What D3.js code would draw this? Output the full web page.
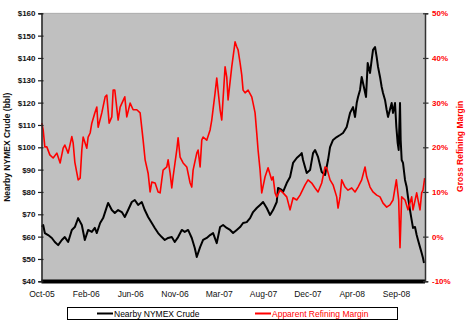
<!DOCTYPE html>
<html><head><meta charset="utf-8">
<script src="https://cdn.jsdelivr.net/npm/d3@7"></script>
<style>body{margin:0;background:#fff}svg{display:block}text{font-family:"Liberation Sans",Arial,sans-serif}</style>
</head><body>
<script>
const crudeDates = ["2005-10-06","2005-10-10","2005-10-15","2005-10-25","2005-11-05","2005-11-14","2005-11-24","2005-12-05","2005-12-14","2005-12-24",
"2006-01-04","2006-01-13","2006-01-23","2006-02-03","2006-02-12","2006-02-22","2006-03-05","2006-03-14","2006-03-20","2006-03-30",
"2006-04-08","2006-04-19","2006-04-23","2006-05-04","2006-05-13","2006-05-23","2006-06-03","2006-06-12","2006-06-22","2006-07-03",
"2006-07-12","2006-07-22","2006-08-02","2006-08-11","2006-08-21","2006-09-01","2006-09-10","2006-09-20","2006-10-01","2006-10-10",
"2006-10-20","2006-10-31","2006-11-09","2006-11-19","2006-11-30","2006-12-09","2006-12-19","2006-12-30","2007-01-08","2007-01-14",
"2007-01-24","2007-02-02","2007-02-13","2007-02-23","2007-03-04","2007-03-15","2007-03-25","2007-04-03","2007-04-14","2007-04-24",
"2007-05-03","2007-05-14","2007-05-24","2007-06-02","2007-06-13","2007-06-23","2007-07-02","2007-07-13","2007-07-23","2007-08-01",
"2007-08-12","2007-08-22","2007-08-31","2007-09-11","2007-09-15","2007-09-26","2007-09-30","2007-10-11","2007-10-21","2007-10-30",
"2007-11-10","2007-11-20","2007-11-25","2007-11-29","2007-12-10","2007-12-20","2007-12-29","2008-01-04","2008-01-13","2008-01-24",
"2008-02-03","2008-02-12","2008-02-18","2008-02-27","2008-03-09","2008-03-19","2008-03-28","2008-04-08","2008-04-18","2008-04-27",
"2008-05-03","2008-05-08","2008-05-12","2008-05-18","2008-05-23","2008-05-27","2008-06-05","2008-06-10","2008-06-17","2008-06-22",
"2008-06-26","2008-07-02","2008-07-07","2008-07-11","2008-07-17","2008-07-22","2008-07-26","2008-08-01","2008-08-06","2008-08-10",
"2008-08-21","2008-08-25","2008-08-31","2008-09-04","2008-09-08","2008-09-11","2008-09-15","2008-09-17","2008-09-20","2008-09-24",
"2008-09-30","2008-10-05","2008-10-09","2008-10-15","2008-10-20","2008-10-24","2008-10-30","2008-11-04","2008-11-08","2008-11-14",
"2008-11-19","2008-11-23","2008-11-26"];
const crudeValues = [64.4,65.2,61.6,60.7,59.4,57.6,56.2,58.5,59.8,57.6,
63.0,64.3,68.3,65.2,58.5,63.0,62.1,63.9,61.6,66.1,
68.3,73.3,75.1,71.9,70.6,71.9,71.0,68.8,71.9,75.5,
76.4,74.2,75.5,71.9,68.8,66.1,63.9,61.6,59.8,58.5,
59.4,59.8,57.6,59.8,63.0,62.1,63.0,59.4,54.9,50.9,
55.3,58.5,59.4,60.7,61.6,57.1,64.3,65.2,63.9,63.0,
61.6,63.0,64.3,66.1,66.5,68.3,71.0,72.8,74.2,75.5,
72.8,69.7,71.9,75.5,81.8,80.9,80.0,84.0,86.7,93.0,
95.2,96.5,97.4,94.3,88.5,89.8,97.4,98.8,95.7,88.9,
87.6,94.3,100.1,103.3,104.6,105.5,106.4,109.1,115.4,118.0,
113.6,119.8,122.5,125.7,131.5,128.8,122.5,137.7,133.3,139.1,
143.6,144.9,140.4,136.0,131.5,127.0,124.3,121.2,116.7,113.6,
119.8,115.4,119.8,109.1,101.9,98.8,119.8,103.3,94.3,93.0,
85.4,82.2,77.7,71.9,67.4,63.9,64.3,60.7,58.5,55.3,
52.7,50.4,48.2];

const marginDates = ["2005-10-06","2005-10-10","2005-10-15","2005-10-21","2005-10-30","2005-11-09","2005-11-20","2005-11-30","2005-12-09","2005-12-14",
"2005-12-24","2006-01-04","2006-01-08","2006-01-13","2006-01-23","2006-01-29","2006-02-03","2006-02-07","2006-02-18","2006-02-22",
"2006-02-28","2006-03-05","2006-03-14","2006-03-20","2006-03-24","2006-04-04","2006-04-14","2006-04-19","2006-04-26","2006-05-04",
"2006-05-08","2006-05-13","2006-05-23","2006-05-29","2006-06-12","2006-06-18","2006-06-28","2006-07-07","2006-07-18","2006-07-28",
"2006-08-06","2006-08-12","2006-08-21","2006-08-27","2006-09-01","2006-09-11","2006-09-20","2006-09-26","2006-10-01","2006-10-05",
"2006-10-16","2006-10-20","2006-10-26","2006-10-31","2006-11-04","2006-11-15","2006-11-19","2006-11-25","2006-12-04","2006-12-15",
"2006-12-25","2006-12-30","2007-01-03","2007-01-14","2007-01-18","2007-01-24","2007-01-29","2007-02-02","2007-02-13","2007-02-23",
"2007-02-28","2007-03-10","2007-03-15","2007-03-25","2007-03-30","2007-04-09","2007-04-14","2007-04-18","2007-04-29","2007-05-09",
"2007-05-14","2007-05-18","2007-05-24","2007-05-29","2007-06-02","2007-06-08","2007-06-17","2007-06-28","2007-07-02","2007-07-08",
"2007-07-13","2007-07-17","2007-07-23","2007-07-28","2007-08-07","2007-08-16","2007-08-27","2007-08-31","2007-09-06","2007-09-11",
"2007-09-21","2007-09-30","2007-10-11","2007-10-21","2007-10-30","2007-11-10","2007-11-20","2007-12-05","2007-12-14","2007-12-25",
"2008-01-04","2008-01-13","2008-01-24","2008-02-03","2008-02-08","2008-02-18","2008-02-27","2008-03-09","2008-03-13","2008-03-19",
"2008-03-24","2008-04-03","2008-04-12","2008-04-23","2008-05-03","2008-05-12","2008-05-23","2008-06-02","2008-06-07","2008-06-17",
"2008-06-26","2008-07-07","2008-07-17","2008-07-26","2008-08-06","2008-08-16","2008-08-25","2008-09-04","2008-09-11","2008-09-15",
"2008-09-20","2008-09-30","2008-10-09","2008-10-20","2008-10-24","2008-11-04","2008-11-14","2008-11-19","2008-11-23","2008-11-28"];
const marginValues = [25.4,23.9,20.1,20.1,18.3,17.6,18.7,16.5,19.8,20.5,
18.7,22.4,21.0,16.7,12.7,13.1,19.4,22.3,19.8,22.3,
23.2,25.4,27.7,29.0,24.5,27.7,31.3,31.7,25.4,26.8,
32.8,32.8,26.1,29.0,31.3,26.8,29.9,28.4,28.4,27.7,
21.6,17.2,14.2,10.0,12.2,12.0,10.0,9.8,12.7,14.9,
15.6,17.2,14.2,10.9,13.4,19.4,22.1,17.8,16.5,15.6,
12.0,11.1,14.9,18.7,19.4,15.6,21.6,22.3,21.6,23.9,
26.1,32.2,35.5,28.4,26.1,38.0,35.7,30.6,38.0,43.6,
42.5,41.8,38.9,36.2,32.8,32.2,32.8,31.3,29.9,27.7,
23.2,19.4,14.9,9.8,13.4,15.4,12.7,13.4,9.8,8.9,
10.4,9.8,8.9,6.0,8.7,8.2,9.3,11.6,12.7,12.0,
10.9,10.0,12.0,15.6,15.4,12.7,11.6,8.9,6.4,8.9,
12.7,11.1,10.4,10.9,10.0,11.1,12.7,15.6,13.4,11.1,
10.0,9.3,8.9,7.5,6.6,7.1,8.2,12.7,8.2,-2.5,
8.9,8.2,6.0,8.9,6.0,9.8,6.0,9.8,10.4,13.1];

const xTickDates = ["2005-10-05","2006-02-15","2006-06-28","2006-11-08","2007-03-21","2007-08-01","2007-12-12","2008-04-23","2008-09-03"];
const xTickLabels = ["Oct-05","Feb-06","Jun-06","Nov-06","Mar-07","Aug-07","Dec-07","Apr-08","Sep-08"];
const crudeTicks = [40,50,60,70,80,90,100,110,120,130,140,150,160];
const marginTicks = [-10,0,10,20,30,40,50];
const xDomain = ["2005-10-05","2008-11-29"];
const seriesNames = ["Nearby NYMEX Crude","Apparent Refining Margin"];
const axisTitles = ["Nearby NYMEX Crude (bbl)","Gross Refining Margin"];

const W = 470, H = 329;
const L = 41.5, R = 425, T = 13.3, B = 281.3;
const parse = d3.timeParse("%Y-%m-%d");

const svg = d3.select("body").append("svg").attr("width", W).attr("height", H);
svg.append("rect").attr("width", W).attr("height", H).attr("fill", "#fff");

const x = d3.scaleTime().domain(xDomain.map(parse)).range([L, R]);
const yL = d3.scaleLinear().domain([40, 160]).range([B, T]);
const yR = d3.scaleLinear().domain([-10, 50]).range([B, T]);

// plot area
svg.append("rect").attr("x", L).attr("y", T).attr("width", R - L).attr("height", B - T).attr("fill", "#C0C0C0");
svg.append("line").attr("x1", L).attr("x2", R).attr("y1", T).attr("y2", T)
  .attr("stroke", "#808080").attr("stroke-width", 1).attr("stroke-dasharray", "1,1");

const crude = crudeDates.map((d, i) => ({date: parse(d), v: crudeValues[i]}));
const margin = marginDates.map((d, i) => ({date: parse(d), v: marginValues[i]}));

svg.append("path").datum(crude)
  .attr("d", d3.line().x(d => x(d.date)).y(d => yL(d.v)))
  .attr("fill", "none").attr("stroke", "#000").attr("stroke-width", 2).attr("stroke-linejoin", "round");
svg.append("path").datum(margin)
  .attr("d", d3.line().x(d => x(d.date)).y(d => yR(d.v)))
  .attr("fill", "none").attr("stroke", "#FF0000").attr("stroke-width", 1.6).attr("stroke-linejoin", "round");

// bottom heavy axis line
svg.append("rect").attr("x", L).attr("y", B - 1.8).attr("width", R - L).attr("height", 4).attr("fill", "#000");

// left axis
const gl = svg.append("g").attr("transform", `translate(${L},0)`)
  .call(d3.axisLeft(yL).tickValues(crudeTicks).tickSize(3).tickFormat(d => "$" + d));
gl.select(".domain").attr("stroke", "#222").attr("stroke-width", 1.5);
gl.selectAll(".tick line").attr("stroke", "#222").attr("stroke-width", 1.2).attr("x2", -3.5).attr("x1", 2);
gl.selectAll(".tick text").attr("x", -6).attr("font-size", 8).attr("font-weight", "bold").attr("fill", "#111")
  .attr("font-family", "Liberation Sans, Arial, sans-serif");

// right axis
const gr = svg.append("g").attr("transform", `translate(${R},0)`)
  .call(d3.axisRight(yR).tickValues(marginTicks).tickSize(3).tickFormat(d => d + "%"));
gr.select(".domain").attr("stroke", "#333").attr("stroke-width", 1.5);
gr.selectAll(".tick line").attr("stroke", "#333").attr("stroke-width", 1.2).attr("x1", -2).attr("x2", 3.5);
gr.selectAll(".tick text").attr("x", 7).attr("font-size", 8).attr("font-weight", "bold").attr("fill", "#FF0000")
  .attr("font-family", "Liberation Sans, Arial, sans-serif");

// x axis labels
const gx = svg.append("g").attr("transform", `translate(0,${B})`)
  .call(d3.axisBottom(x).tickValues(xTickDates.map(parse)).tickSize(0)
    .tickFormat((d, i) => xTickLabels[i]));
gx.select(".domain").remove();
gx.selectAll(".tick text").attr("y", 10).attr("font-size", 8.5).attr("fill", "#111")
  .attr("font-family", "Liberation Sans, Arial, sans-serif");

// axis titles
svg.append("text").attr("transform", `translate(10,${(T + B) / 2}) rotate(-90)`)
  .attr("text-anchor", "middle").attr("font-size", 8.5).attr("font-weight", "bold").attr("fill", "#111")
  .text(axisTitles[0]);
svg.append("text").attr("transform", `translate(463,${(T + B) / 2 - 1}) rotate(-90)`)
  .attr("text-anchor", "middle").attr("font-size", 8.5).attr("font-weight", "bold").attr("fill", "#FF0000")
  .text(axisTitles[1]);

// legend
const lg = svg.append("g");
lg.append("rect").attr("x", 67.5).attr("y", 307.5).attr("width", 330).attr("height", 12)
  .attr("fill", "#fff").attr("stroke", "#000").attr("stroke-width", 1);
const legendItems = [{name: seriesNames[0], color: "#000", x: 97}, {name: seriesNames[1], color: "#FF0000", x: 255}];
legendItems.forEach(it => {
  lg.append("line").attr("x1", it.x).attr("x2", it.x + 16).attr("y1", 313.5).attr("y2", 313.5)
    .attr("stroke", it.color).attr("stroke-width", 2);
  lg.append("text").attr("x", it.x + 17).attr("y", 316.6).attr("font-size", 8.5).attr("fill", it.color)
    .text(it.name);
});
</script>
</body></html>
